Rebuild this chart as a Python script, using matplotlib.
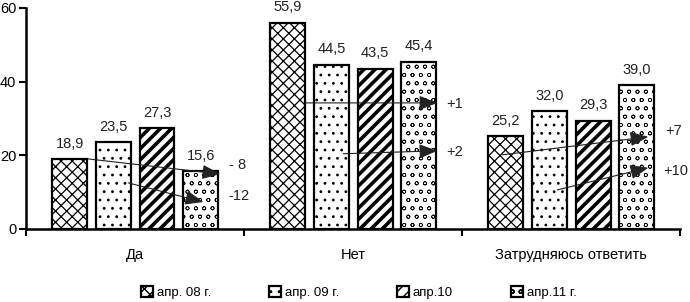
import matplotlib
matplotlib.use("Agg")
import matplotlib.pyplot as plt
import numpy as np

plt.rcParams['font.family'] = ['Liberation Sans', 'DejaVu Sans']

categories = ["Да", "Нет", "Затрудняюсь ответить"]
series_names = ["апр. 08 г.", "апр. 09 г.", "апр.10", "апр.11 г."]
v08 = [18.9, 55.9, 25.2]
v09 = [23.5, 44.5, 32.0]
v10 = [27.3, 43.5, 29.3]
v11 = [15.6, 45.4, 39.0]
series = [v08, v09, v10, v11]
yticks = [0, 20, 40, 60]

# change annotations: (start x, start y, end x, end y, label x, label y, text)
arrows = [
    (-0.216, 19.0, 0.39, 14.9, 0.47, 17.4, "- 8"),
    (-0.032, 12.5, 0.312, 7.3, 0.475, 9.0, "-12"),
    (0.78, 34.2, 1.385, 34.2, 1.465, 33.8, "+1"),
    (0.954, 20.4, 1.385, 21.2, 1.465, 21.0, "+2"),
    (1.683, 20.1, 2.353, 25.0, 2.47, 26.6, "+7"),
    (1.936, 10.6, 2.353, 16.6, 2.48, 15.8, "+10"),
]

hatches = ["xxx", "..", "///", "oo"]
hatch_lw = [0.9, 0.8, 2.6, 0.5]

fig = plt.figure(figsize=(6.9, 3.02), dpi=100)
ax = fig.add_axes([0.038, 0.242, 0.948, 0.732])

x = np.arange(len(categories))
width = 0.16
step = 0.2
offsets = [-1.5 * step, -0.5 * step, 0.5 * step, 1.5 * step]

for i, (vals, name) in enumerate(zip(series, series_names)):
    bars = ax.bar(x + offsets[i], vals, width, facecolor="white", edgecolor="black",
                  linewidth=1.6, hatch=hatches[i], label=name, zorder=2)
    for b in bars:
        try:
            b.set_hatch_linewidth(hatch_lw[i])
        except Exception:
            pass
    for xi, v in zip(x + offsets[i], vals):
        ax.text(xi, v + 2.3, f"{v:.1f}".replace(".", ","), ha="center", va="bottom",
                fontsize=10.5, color="#222222")

for sx, sy, ex, ey, lx, ly, t in arrows:
    ax.annotate("", xy=(ex, ey), xytext=(sx, sy),
                arrowprops=dict(arrowstyle="-|>,head_length=0.8,head_width=0.32",
                                mutation_scale=14,
                                color="#222222", lw=0.8, shrinkA=0, shrinkB=0),
                zorder=5)
    ax.text(lx, ly, t, ha="center", va="center", fontsize=10.5, color="#222222",
            clip_on=False)

ax.set_xlim(-0.5, 2.5)
ax.set_ylim(0, 60)
ax.set_yticks(yticks)
ax.set_yticklabels([str(t) for t in yticks], fontsize=10.5)
ax.set_xticks(x)
ax.set_xticklabels(categories, fontsize=10.5)
ax.tick_params(axis="x", length=0, pad=14)
ax.set_xticks([-0.5, 0.5, 1.5, 2.5], minor=True)
ax.tick_params(axis="x", which="minor", length=5, width=1.5, direction="out")
ax.tick_params(axis="y", length=5, width=1.5, direction="out", pad=2)
for s in ["top", "right"]:
    ax.spines[s].set_visible(False)
ax.spines["left"].set_linewidth(1.8)
ax.spines["bottom"].set_linewidth(1.8)

leg = fig.legend(loc="center", bbox_to_anchor=(0.52, 0.03), ncol=4, frameon=False,
                 fontsize=9.5, handlelength=0.9, handleheight=0.9, handletextpad=0.3,
                 columnspacing=4.4)

fig.savefig("out.png", dpi=100)
